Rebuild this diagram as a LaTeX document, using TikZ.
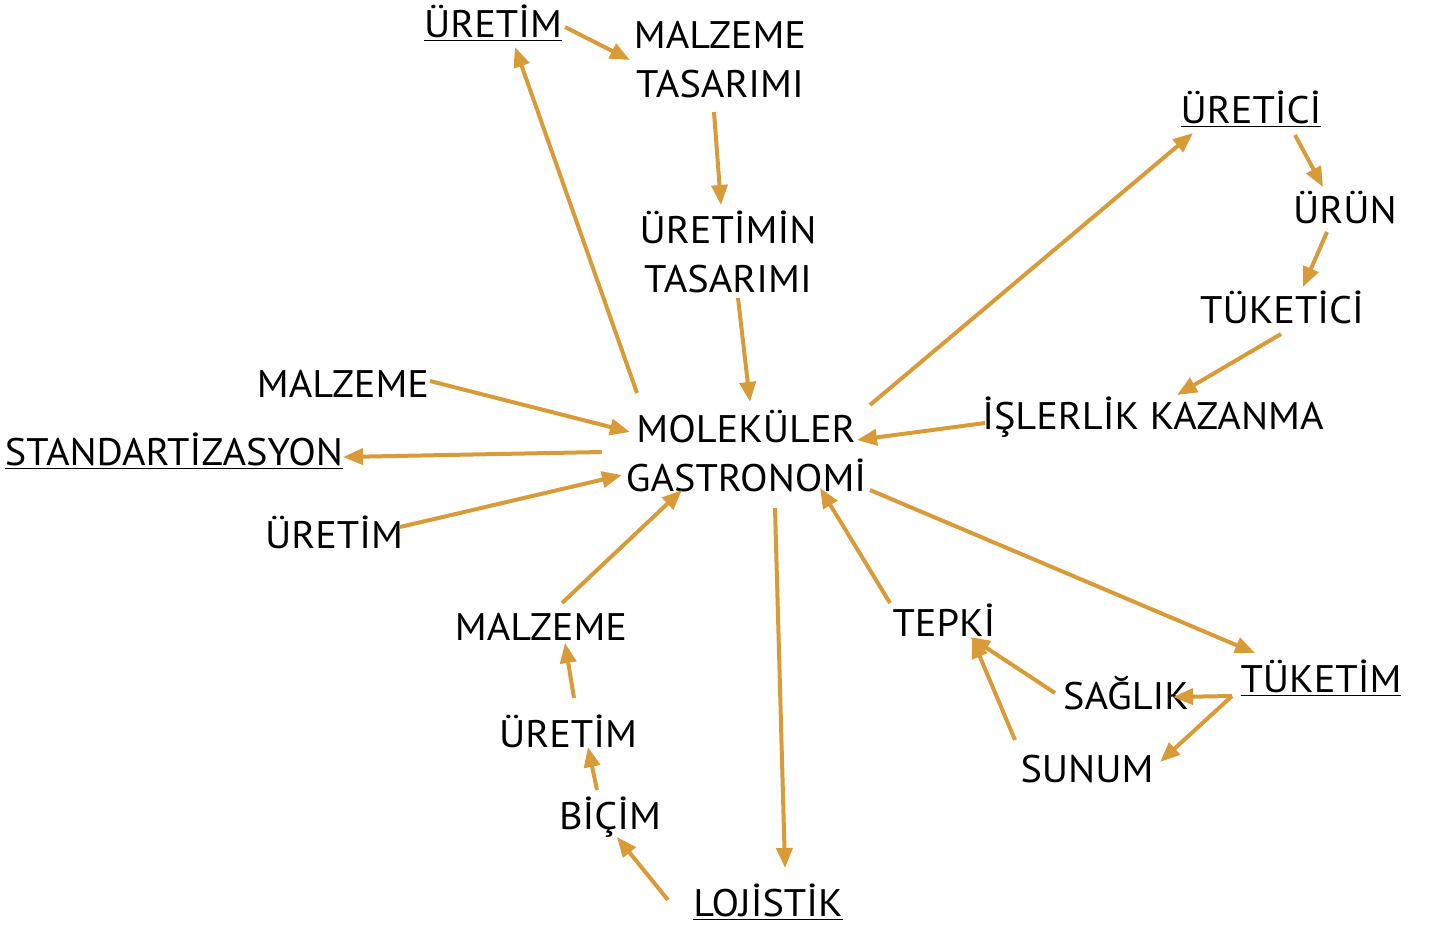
\documentclass[tikz,border=0pt]{standalone}
\usepackage{fontspec}
\setmainfont[FakeStretch=1.05]{PT Sans}
\usetikzlibrary{arrows.meta}
\definecolor{linkgold}{HTML}{D89B38}

\begin{document}
\begin{tikzpicture}[
  x=0.5pt,
  y=-0.5pt,
  line join=round,
  term/.style={inner sep=0pt,font=\fontsize{19.2}{24.5}\selectfont,anchor=base},
  pair/.style={term,align=center,anchor=center},
  link/.style={draw=linkgold,line width=2pt,-{Triangle[length=10pt,width=8pt]}}
]
  % Keep the frame of the original figure.
  \useasboundingbox (0,0) rectangle (1430,932);

  % Centre of the map.
  \node[pair] (mg) at (746,451) {MOLEKÜLER\\GASTRONOMİ};

  % Upper branch.
  \node[term] (ut) at (493,37) {\underline{ÜRETİM}};
  \node[pair] (mt) at (720,60) {MALZEME\\TASARIMI};
  \node[pair] (ut2) at (728,252) {ÜRETİMİN\\TASARIMI};

  % Right branch.
  \node[term] (uc) at (1251,123) {\underline{ÜRETİCİ}};
  \node[term] (ur) at (1345,223) {ÜRÜN};
  \node[term] (tc) at (1282,323) {TÜKETİCİ};
  \node[term] (ik) at (1153,429) {İŞLERLİK KAZANMA};

  % Left side.
  \node[term] (ml) at (343,397) {MALZEME};
  \node[term] (st) at (174,465) {\underline{STANDARTİZASYON}};
  \node[term] (ul) at (334,548) {ÜRETİM};

  % Lower left chain.
  \node[term] (mb) at (541,640) {MALZEME};
  \node[term] (ub) at (568,747) {ÜRETİM};
  \node[term] (bc) at (610,829) {BİÇİM};
  \node[term] (lj) at (768,916) {\underline{LOJİSTİK}};

  % Lower right cycle.
  \node[term] (tp) at (944,636) {TEPKİ};
  \node[term] (sg) at (1126,709) {SAĞLIK};
  \node[term] (tk) at (1321,692) {\underline{TÜKETİM}};
  \node[term] (sn) at (1087,782) {SUNUM};

  % Upper branch arrows.
  \draw[link] ([shift={(-109,-58)}]mg.center) -- ([shift={(22,10)}]ut.base);
  \draw[link] ([shift={(72,-10)}]ut.base) -- ([shift={(-90,0)}]mt.center);
  \draw[link] ([shift={(-6,52)}]mt.center) -- ([shift={(-7,-47)}]ut2.center);
  \draw[link] ([shift={(10,46)}]ut2.center) -- ([shift={(4,-49)}]mg.center);

  % Right branch arrows.
  \draw[link] ([shift={(124,-46)}]mg.center) -- ([shift={(-58,10)}]uc.base);
  \draw[link] ([shift={(44,12)}]uc.base) -- ([shift={(-22,-36)}]ur.base);
  \draw[link] ([shift={(-18,9)}]ur.base) -- ([shift={(21,-36)}]tc.base);
  \draw[link] ([shift={(-1,11)}]tc.base) -- ([shift={(24,-34)}]ik.base);
  \draw[link] ([shift={(-168,-6)}]ik.base) -- ([shift={(111,-11)}]mg.center);

  % Left side arrows.
  \draw[link] ([shift={(87,-16)}]ml.base) -- ([shift={(-116,-19)}]mg.center);
  \draw[link] ([shift={(-144,1)}]mg.center) -- ([shift={(169,-8)}]st.base);
  \draw[link] ([shift={(66,-21)}]ul.base) -- ([shift={(-124,24)}]mg.center);

  % Lower left arrows.
  \draw[link] ([shift={(21,-37)}]mb.base) -- ([shift={(-64,39)}]mg.center);
  \draw[link] ([shift={(6,-49)}]ub.base) -- ([shift={(24,3)}]mb.base);
  \draw[link] ([shift={(-13,-39)}]bc.base) -- ([shift={(20,0)}]ub.base);
  \draw[link] ([shift={(-100,-16)}]lj.base) -- ([shift={(7,8)}]bc.base);
  \draw[link] ([shift={(29,57)}]mg.center) -- ([shift={(17,-48)}]lj.base);

  % Lower right arrows.
  \draw[link] ([shift={(-54,-33)}]tp.base) -- ([shift={(74,37)}]mg.center);
  \draw[link] ([shift={(124,39)}]mg.center) -- ([shift={(-66,-39)}]tk.base);
  \draw[link] ([shift={(-89,4)}]tk.base) -- ([shift={(47,-12)}]sg.base);
  \draw[link] ([shift={(-89,4)}]tk.base) -- ([shift={(73,-20)}]sn.base);
  \draw[link] ([shift={(-71,-16)}]sg.base) -- ([shift={(26,1)}]tp.base);
  \draw[link] ([shift={(-72,-42)}]sn.base) -- ([shift={(28,2)}]tp.base);
\end{tikzpicture}
\end{document}
